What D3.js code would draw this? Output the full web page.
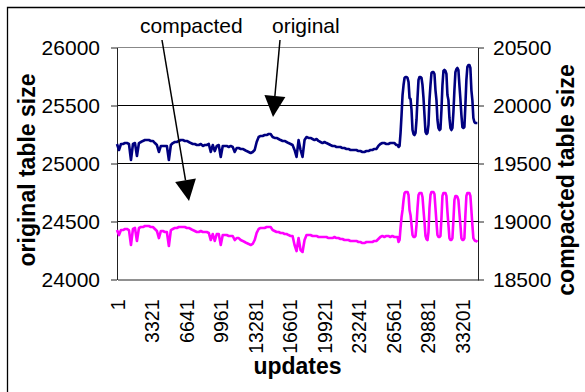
<!DOCTYPE html>
<html>
<head>
<meta charset="utf-8">
<script src="https://cdn.jsdelivr.net/npm/d3@7"></script>
<style>
  body { margin: 0; background: #fff; }
  svg { display: block; font-family: "Liberation Sans", Arial, sans-serif; }
</style>
</head>
<body>
<svg id="chart" width="585" height="392"></svg>
<script>
// category ticks on the update axis
const xTicks = [1, 3321, 6641, 9961, 13281, 16601, 19921, 23241, 26561, 29881, 33201];
const leftTicks = [24000, 24500, 25000, 25500, 26000];
const rightTicks = [18500, 19000, 19500, 20000, 20500];

// sampled update numbers (coarser before the jump, finer during the oscillation)
const updates = [...d3.range(1, 27000, 192), ...d3.range(27000, 34750, 96)];

// original table size (left axis)
const original = [
  25164, 25112, 25164, 25164, 25172, 25172, 25164, 25026, 25164, 25172,
  25060, 25172, 25181, 25190, 25198, 25198, 25198, 25190, 25190, 25172,
  25155, 25095, 25147, 25147, 25147, 25147, 25026, 25155, 25172, 25181,
  25181, 25190, 25198, 25198, 25190, 25190, 25181, 25172, 25164, 25164,
  25155, 25155, 25164, 25147, 25155, 25155, 25164, 25095, 25155, 25103,
  25147, 25155, 25052, 25147, 25147, 25147, 25138, 25147, 25138, 25095,
  25129, 25129, 25121, 25121, 25112, 25103, 25095, 25086, 25095, 25112,
  25181, 25224, 25233, 25233, 25241, 25241, 25250, 25250, 25224, 25216,
  25216, 25207, 25198, 25190, 25190, 25181, 25172, 25164, 25155, 25112,
  25052, 25198, 25112, 25052, 25198, 25224, 25216, 25216, 25207, 25198,
  25207, 25190, 25181, 25172, 25181, 25172, 25164, 25155, 25147, 25147,
  25138, 25138, 25138, 25129, 25129, 25121, 25121, 25112, 25112, 25112,
  25112, 25103, 25103, 25095, 25095, 25103, 25103, 25112, 25112, 25121,
  25121, 25147, 25164, 25172, 25172, 25164, 25164, 25172, 25172, 25172,
  25155,
  25155, 25138, 25147, 25259, 25414, 25586, 25672, 25733, 25741, 25741,
  25733, 25698, 25560, 25552, 25457, 25284, 25250, 25241, 25259, 25371,
  25560, 25716, 25741, 25741, 25733, 25672, 25560, 25414, 25267, 25250,
  25259, 25328, 25543, 25672, 25776, 25784, 25784, 25767, 25629, 25543,
  25371, 25302, 25284, 25293, 25457, 25672, 25793, 25802, 25793, 25767,
  25586, 25543, 25388, 25302, 25284, 25302, 25440, 25629, 25784, 25810,
  25819, 25802, 25672, 25552, 25414, 25310, 25302, 25310, 25500, 25716,
  25828, 25845, 25845, 25819, 25629, 25543, 25388, 25353, 25345, 25345,
  25345
];

// compacted table size (right axis)
const compacted = [
  18922, 18879, 18922, 18922, 18931, 18931, 18922, 18793, 18931, 18940,
  18828, 18940, 18948, 18948, 18957, 18957, 18957, 18948, 18948, 18931,
  18914, 18853, 18914, 18914, 18905, 18905, 18784, 18922, 18931, 18940,
  18940, 18948, 18948, 18948, 18948, 18940, 18940, 18931, 18922, 18914,
  18905, 18905, 18914, 18905, 18905, 18905, 18897, 18836, 18888, 18828,
  18888, 18888, 18793, 18879, 18879, 18879, 18871, 18871, 18871, 18836,
  18853, 18853, 18836, 18828, 18819, 18810, 18802, 18793, 18802, 18836,
  18897, 18931, 18940, 18940, 18940, 18948, 18948, 18948, 18922, 18914,
  18905, 18905, 18897, 18897, 18888, 18888, 18879, 18871, 18871, 18793,
  18741, 18853, 18750, 18733, 18836, 18879, 18879, 18879, 18871, 18871,
  18871, 18862, 18862, 18862, 18862, 18862, 18853, 18853, 18853, 18862,
  18853, 18853, 18845, 18845, 18836, 18836, 18836, 18828, 18828, 18828,
  18828, 18819, 18819, 18810, 18810, 18819, 18819, 18819, 18819, 18828,
  18828, 18845, 18862, 18871, 18862, 18871, 18871, 18862, 18871, 18862,
  18862,
  18862, 18819, 18836, 18940, 19034, 19095, 19181, 19241, 19250, 19250,
  19250, 19224, 19095, 19052, 18966, 18879, 18862, 18862, 18871, 18966,
  19112, 19224, 19241, 19241, 19241, 19207, 19095, 18991, 18871, 18845,
  18836, 18905, 19112, 19224, 19250, 19250, 19250, 19233, 19112, 18991,
  18879, 18862, 18862, 18871, 19026, 19216, 19241, 19241, 19241, 19216,
  19078, 18966, 18853, 18836, 18836, 18853, 19009, 19181, 19216, 19216,
  19207, 19181, 19069, 18966, 18853, 18836, 18836, 18853, 19052, 19216,
  19241, 19241, 19241, 19216, 19095, 18966, 18853, 18836, 18828, 18828,
  18819
];

const svg = d3.select('#chart');
const W = 585, H = 392;
const m = {left: 117, right: 478, top: 47, bottom: 279};

svg.append('rect').attr('width', W).attr('height', H).attr('fill', '#fff');

// outer frame (only top/left visible in the original crop)
svg.append('path')
  .attr('d', `M7.5,${H}V7.5H${W}`)
  .attr('fill', 'none').attr('stroke', '#000').attr('stroke-width', 1.3);

const x = d3.scaleLinear().domain([1, 34741]).range([m.left, m.right]);
const yL = d3.scaleLinear().domain([24000, 26000]).range([m.bottom, m.top]);
const yR = d3.scaleLinear().domain([18500, 20500]).range([m.bottom, m.top]);

// gridlines
svg.append('g').selectAll('line')
  .data(leftTicks.slice(1, -1))
  .join('line')
  .attr('x1', m.left).attr('x2', m.right)
  .attr('y1', d => Math.round(yL(d)) + 0.5).attr('y2', d => Math.round(yL(d)) + 0.5)
  .attr('stroke', '#000');
svg.append('line')
  .attr('x1', m.left).attr('x2', m.right)
  .attr('y1', yL(26000) + 0.5).attr('y2', yL(26000) + 0.5)
  .attr('stroke', '#888');

// axes
const axL = svg.append('g').attr('transform', `translate(${m.left},0.5)`)
  .call(d3.axisLeft(yL).tickValues(leftTicks).tickSize(6).tickSizeOuter(0).tickPadding(11).tickFormat(d3.format('d')));
const axR = svg.append('g').attr('transform', `translate(${m.right},0.5)`)
  .call(d3.axisRight(yR).tickValues(rightTicks).tickSize(6).tickSizeOuter(0).tickPadding(9).tickFormat(d3.format('d')));
[axL, axR].forEach(a => {
  a.selectAll('path, line').attr('stroke', '#222');
  a.selectAll('text').attr('font-size', 21).attr('fill', '#000').attr('font-family', '"Liberation Sans", Arial, sans-serif');
});

const axB = svg.append('g').attr('transform', `translate(0.5,${m.bottom + 0.5})`)
  .call(d3.axisBottom(x).tickValues(xTicks).tickSize(0).tickSizeOuter(0).tickFormat(d3.format('d')));
axB.select('.domain').attr('stroke', '#222');
axB.selectAll('text')
  .attr('transform', 'rotate(-90)')
  .attr('text-anchor', 'end')
  .attr('x', -20).attr('y', 0).attr('dy', '0.35em')
  .attr('font-size', 19.5).attr('fill', '#000')
  .attr('font-family', '"Liberation Sans", Arial, sans-serif');

// series
const lineL = d3.line().x((d, i) => x(updates[i])).y(d => yL(d));
const lineR = d3.line().x((d, i) => x(updates[i])).y(d => yR(d));

svg.append('path').datum(original)
  .attr('d', lineL).attr('fill', 'none')
  .attr('stroke', '#000080').attr('stroke-width', 2.6).attr('stroke-linejoin', 'round');
svg.append('path').datum(compacted)
  .attr('d', lineR).attr('fill', 'none')
  .attr('stroke', '#ff00ff').attr('stroke-width', 2.6).attr('stroke-linejoin', 'round');

// axis titles
svg.append('text')
  .attr('transform', 'translate(35,170) rotate(-90)')
  .attr('text-anchor', 'middle').attr('font-weight', 'bold').attr('font-size', 23)
  .text('original table size');
svg.append('text')
  .attr('transform', 'translate(574,180) rotate(-90)')
  .attr('text-anchor', 'middle').attr('font-weight', 'bold').attr('font-size', 23)
  .text('compacted table size');
svg.append('text')
  .attr('x', (m.left + m.right) / 2).attr('y', 374)
  .attr('text-anchor', 'middle').attr('font-weight', 'bold').attr('font-size', 23)
  .text('updates');

// annotations with arrows
function arrow(x0, y0, x1, y1) {
  const ang = Math.atan2(y1 - y0, x1 - x0);
  const len = 21, half = 10.5;
  const bx = x1 - len * Math.cos(ang), by = y1 - len * Math.sin(ang);
  svg.append('line')
    .attr('x1', x0).attr('y1', y0).attr('x2', bx).attr('y2', by)
    .attr('stroke', '#000').attr('stroke-width', 1.5);
  const px = -Math.sin(ang) * half, py = Math.cos(ang) * half;
  svg.append('path')
    .attr('d', `M${x1},${y1}L${bx + px},${by + py}L${bx - px},${by - py}Z`)
    .attr('fill', '#000');
}

svg.append('text').attr('x', 140).attr('y', 33).attr('font-size', 21).text('compacted');
svg.append('text').attr('x', 272).attr('y', 33).attr('font-size', 21).text('original');
arrow(162, 40, x(6930), yR(19172));
arrow(280, 40, x(15013), yL(25397));
</script>
</body>
</html>
